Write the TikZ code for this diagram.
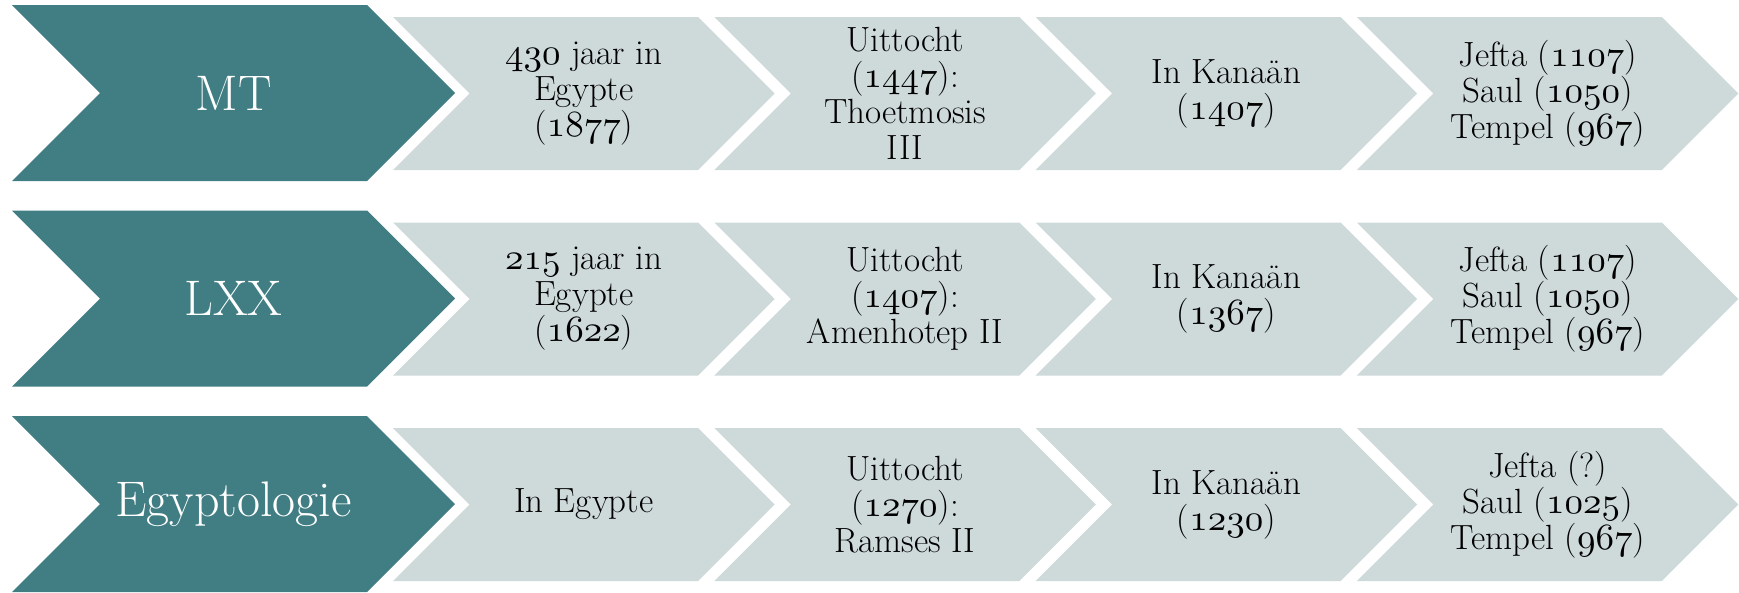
\documentclass[tikz,border=0pt]{standalone}
\usepackage{fontspec}
\DeclareFontFamily{OML}{myosf}{}
\DeclareFontShape{OML}{myosf}{m}{n}{<->cmmi10}{}
\newcommand\osn[1]{{\fontsize{37pt}{36pt}\usefont{OML}{myosf}{m}{n}#1}}
\definecolor{tealdark}{HTML}{417E84}
\definecolor{graylight}{HTML}{CED9DA}
\tikzset{
  lbl/.style={align=center, font=\fontsize{35pt}{36pt}\selectfont, text=black, inner sep=0pt},
  biglbl/.style={font=\fontsize{50pt}{54pt}\selectfont, text=white, inner sep=0pt}
}
\newcommand\chevshape[5]{\fill[#5] (#1,#2) -- ++(#3,0) -- ++(#4/2,#4/2) -- ++(-#4/2,#4/2) -- ++(-#3,0) -- ++(#4/2,-#4/2) -- cycle;}
\begin{document}
\begin{tikzpicture}[x=1pt,y=-1pt]
\useasboundingbox (0,0) rectangle (1739,592);
\foreach \r in {0,1,2}{
  \pgfmathsetmacro\T{5+205.5*\r}
  \chevshape{12}{\T}{355}{176}{tealdark}
  \foreach \i in {0,1,2,3}{
    \pgfmathsetmacro\X{393+321.3*\i}
    \pgfmathsetmacro\Y{\T+12}
    \chevshape{\X}{\Y}{305}{153}{graylight}
  }
}
% row 1
\node[biglbl] (mt) at (233.5,93) {MT};
\node[lbl] (mt1) at (583.75,93.5) {\osn{430} jaar in\\Egypte\\(\osn{1877})};
\node[lbl] (mt2) at (905.05,93.5) {Uittocht\\(\osn{1447}):\\Thoetmosis\\III};
\node[lbl] (mt3) at (1226.35,93.5) {In Kanaän\\(\osn{1407})};
\node[lbl] (mt4) at (1547.65,93.5) {Jefta (\osn{1107})\\Saul (\osn{1050})\\Tempel (\osn{967})};
% row 2
\node[biglbl] (lxx) at (233.5,298.5) {LXX};
\node[lbl] (lxx1) at (583.75,299) {\osn{215} jaar in\\Egypte\\(\osn{1622})};
\node[lbl] (lxx2) at (905.05,299) {Uittocht\\(\osn{1407}):\\Amenhotep II};
\node[lbl] (lxx3) at (1226.35,299) {In Kanaän\\(\osn{1367})};
\node[lbl] (lxx4) at (1547.65,299) {Jefta (\osn{1107})\\Saul (\osn{1050})\\Tempel (\osn{967})};
% row 3
\node[biglbl] (egy) at (233.5,504) {Egyptologie};
\node[lbl] (egy1) at (583.75,504.5) {In Egypte};
\node[lbl] (egy2) at (905.05,504.5) {Uittocht\\(\osn{1270}):\\Ramses II};
\node[lbl] (egy3) at (1226.35,504.5) {In Kanaän\\(\osn{1230})};
\node[lbl] (egy4) at (1547.65,504.5) {Jefta (?)\\Saul (\osn{1025})\\Tempel (\osn{967})};
\end{tikzpicture}
\end{document}
